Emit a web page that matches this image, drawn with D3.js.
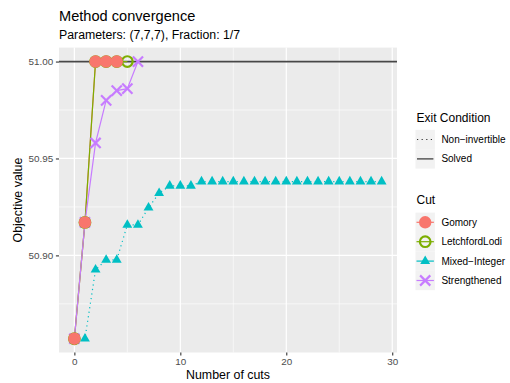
<!DOCTYPE html>
<html lang="en">
<meta charset="utf-8">
<style>
body { margin: 0; background: #fff; font-family: "Liberation Sans", Arial, sans-serif; }
.axis .domain { display: none; }
.axis text { fill: #4d4d4d; font-size: 9.9px; font-family: "Liberation Sans", Arial, sans-serif; }
.axis line { stroke: #333; stroke-width: 1.1; }
</style>
<body>
<div id="chart"></div>
<script src="https://d3js.org/d3.v7.min.js"></script>
<script>
var width = 510, height = 383;

// data
var cutNames = ["Gomory", "LetchfordLodi", "Mixed\u2212Integer", "Strengthened"];
var cutColors = ["#F8766D", "#7CAE00", "#00BFC4", "#C77CFF"];
var cutShapes = ["circle", "ring", "triangle", "cross"];
var cutExit = ["Solved", "Solved", "Non\u2212invertible", "Solved"];
var exitNames = ["Non\u2212invertible", "Solved"];
var exitDash = ["1.2,3.4", null];

var gomory = [50.857, 50.917, 51.000, 51.000, 51.000];
var letchfordLodi = [50.857, 50.917, 51.000, 51.000, 51.000, 51.000];
var mixedInteger = [50.857, 50.857, 50.8926, 50.8977, 50.8977, 50.9157, 50.9157, 50.9246, 50.9321, 50.9359, 50.9359, 50.9359,
  50.9381, 50.9381, 50.9381, 50.9381, 50.9381, 50.9381, 50.9381, 50.9381, 50.9381,
  50.9381, 50.9381, 50.9381, 50.9381, 50.9381, 50.9381, 50.9381, 50.9381, 50.9381];
var strengthened = [50.857, 50.917, 50.958, 50.980, 50.985, 50.986, 51.000];
var optimum = 51.00;

var xTicks = [0, 10, 20, 30];
var xMinor = [5, 15, 25];
var yTicks = [50.90, 50.95, 51.00];
var yMinor = [50.875, 50.925, 50.975];

var series = [gomory, letchfordLodi, mixedInteger, strengthened].map(function(v, i) {
  return { name: cutNames[i], color: cutColors[i], shape: cutShapes[i], exit: cutExit[i], values: v };
});

var panel = { left: 59, right: 397, top: 47.6, bottom: 352.5 };

var x = d3.scaleLinear().domain([-1.45, 30.45]).range([panel.left, panel.right]);
var y = d3.scaleLinear().domain([50.8499, 51.0072]).range([panel.bottom, panel.top]);

var svg = d3.select("#chart").append("svg")
    .attr("width", width)
    .attr("height", height);

// panel background + grid
svg.append("rect")
    .attr("x", panel.left).attr("y", panel.top)
    .attr("width", panel.right - panel.left).attr("height", panel.bottom - panel.top)
    .attr("fill", "#ebebeb");

var grid = svg.append("g").attr("stroke", "#fff");
grid.selectAll(".xmin").data(xMinor).enter().append("line")
    .attr("x1", x).attr("x2", x).attr("y1", panel.top).attr("y2", panel.bottom).attr("stroke-width", 0.6);
grid.selectAll(".ymin").data(yMinor).enter().append("line")
    .attr("y1", y).attr("y2", y).attr("x1", panel.left).attr("x2", panel.right).attr("stroke-width", 0.6);
grid.selectAll(".xmaj").data(xTicks).enter().append("line")
    .attr("x1", x).attr("x2", x).attr("y1", panel.top).attr("y2", panel.bottom).attr("stroke-width", 1.2);
grid.selectAll(".ymaj").data(yTicks).enter().append("line")
    .attr("y1", y).attr("y2", y).attr("x1", panel.left).attr("x2", panel.right).attr("stroke-width", 1.2);

// optimum line
svg.append("line")
    .attr("x1", panel.left).attr("x2", panel.right)
    .attr("y1", y(optimum)).attr("y2", y(optimum))
    .attr("stroke", "#474747").attr("stroke-width", 1.8);

// lines
var line = d3.line().x(function(d, i) { return x(i); }).y(function(d) { return y(d); });
svg.append("g").selectAll("path")
    .data(series)
  .enter().append("path")
    .attr("d", function(d) { return line(d.values); })
    .attr("fill", "none")
    .attr("stroke", function(d) { return d.color; })
    .attr("stroke-width", 1.2)
    .attr("stroke-dasharray", function(d) { return exitDash[exitNames.indexOf(d.exit)]; });

// point shapes
function drawShape(g, shape, color) {
  if (shape === "circle") {
    g.append("circle").attr("r", 6.2).attr("fill", color);
  } else if (shape === "ring") {
    g.append("circle").attr("r", 5.3).attr("fill", "none").attr("stroke", color).attr("stroke-width", 2.2);
  } else if (shape === "triangle") {
    g.append("path").attr("d", d3.symbol(d3.symbolTriangle, 42)()).attr("fill", color);
  } else {
    var r = 5.1;
    g.append("path").attr("d", "M" + -r + "," + -r + "L" + r + "," + r + "M" + -r + "," + r + "L" + r + "," + -r)
      .attr("stroke", color).attr("stroke-width", 2.2).attr("fill", "none");
  }
}

// points, last series first so the Gomory circles sit on top
series.slice().reverse().forEach(function(s) {
  s.values.forEach(function(v, i) {
    var g = svg.append("g").attr("transform", "translate(" + x(i) + "," + y(v) + ")");
    drawShape(g, s.shape, s.color);
  });
});

// axes
svg.append("g")
    .attr("class", "axis")
    .attr("transform", "translate(" + panel.left + ",0)")
    .call(d3.axisLeft(y).tickValues(yTicks).tickFormat(d3.format(".2f")).tickSize(3.1).tickPadding(2.6));

svg.append("g")
    .attr("class", "axis")
    .attr("transform", "translate(0," + panel.bottom + ")")
    .call(d3.axisBottom(x).tickValues(xTicks).tickSize(3.1).tickPadding(2.4));

// titles
svg.append("text").attr("x", panel.left).attr("y", 21)
    .attr("font-size", "14.6px").text("Method convergence");
svg.append("text").attr("x", panel.left).attr("y", 38.5)
    .attr("font-size", "12.3px").text("Parameters: (7,7,7), Fraction: 1/7");
svg.append("text").attr("x", (panel.left + panel.right) / 2).attr("y", 378.5)
    .attr("text-anchor", "middle").attr("font-size", "12.4px").text("Number of cuts");
svg.append("text").attr("transform", "translate(21.5," + (panel.top + panel.bottom) / 2 + ") rotate(-90)")
    .attr("text-anchor", "middle").attr("font-size", "12.4px").text("Objective value");

// legends
var key = 19.4, legX = 415.5;

var leg1 = svg.append("g");
leg1.append("text").attr("x", legX + 1).attr("y", 122).attr("font-size", "12px").text("Exit Condition");
exitNames.forEach(function(name, i) {
  var top = 129.8 + i * key;
  leg1.append("rect").attr("x", legX).attr("y", top).attr("width", key).attr("height", key).attr("fill", "#f2f2f2");
  leg1.append("line").attr("x1", legX + 1.5).attr("x2", legX + key - 1.5).attr("y1", top + key / 2).attr("y2", top + key / 2)
    .attr("stroke", "#333").attr("stroke-width", 1.2).attr("stroke-dasharray", exitDash[i]);
  leg1.append("text").attr("x", legX + key + 6.5).attr("y", top + key / 2 + 3.5).attr("font-size", "10px").text(name);
});

var leg2 = svg.append("g");
leg2.append("text").attr("x", legX + 1).attr("y", 203.8).attr("font-size", "12px").text("Cut");
series.forEach(function(s, i) {
  var top = 212.6 + i * key;
  leg2.append("rect").attr("x", legX).attr("y", top).attr("width", key).attr("height", key).attr("fill", "#f2f2f2");
  leg2.append("line").attr("x1", legX + 1).attr("x2", legX + key - 1).attr("y1", top + key / 2).attr("y2", top + key / 2)
    .attr("stroke", s.color).attr("stroke-width", 1.2);
  var g = leg2.append("g").attr("transform", "translate(" + (legX + key / 2) + "," + (top + key / 2) + ")");
  drawShape(g, s.shape, s.color);
  leg2.append("text").attr("x", legX + key + 6.5).attr("y", top + key / 2 + 3.5).attr("font-size", "10px").text(s.name);
});
</script>
</body>
</html>
